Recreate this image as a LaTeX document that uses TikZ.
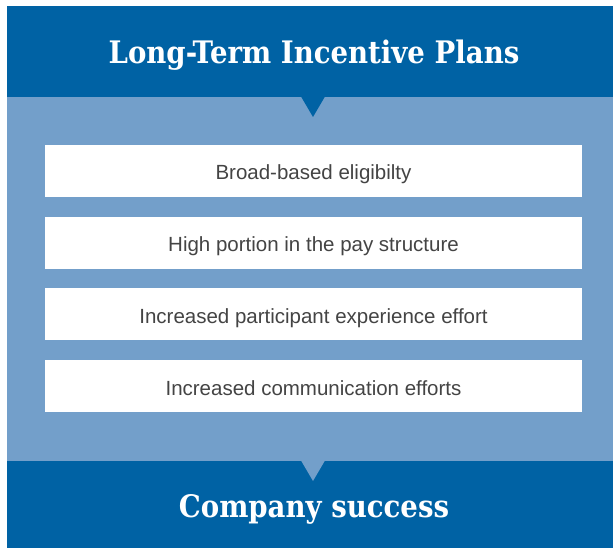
\documentclass[tikz,border=0pt]{standalone}
\usepackage{fontspec}
\setmainfont{Liberation Sans}
\newfontfamily\slabfont[FakeStretch=0.89]{DejaVu Serif}
\usepackage{xcolor}
\usepackage{tikz}
\usetikzlibrary{positioning}

\definecolor{ltipdark}{HTML}{0062A4}
\definecolor{ltiplight}{HTML}{739FCA}
\definecolor{ltiptext}{HTML}{444444}

\begin{document}
\begin{tikzpicture}[
    x=1pt, y=-1pt,
    node distance=19.3pt,
    band/.style={fill=ltipdark},
    headtext/.style={text=white, font=\slabfont\bfseries\fontsize{31}{36}\selectfont, inner sep=0pt, anchor=base},
    itembox/.style={rectangle, fill=white, minimum width=537pt, minimum height=52pt, inner sep=0pt, text height=20pt, text depth=2pt, align=center, text=ltiptext, font=\fontsize{20.5}{24}\selectfont}
]

% Canvas
\useasboundingbox[fill=white] (0,0) rectangle (613,548);

% Bands
\fill[ltiplight] (7,97) rectangle (613,461);
\fill[band] (7,6) rectangle (613,97);
\fill[band] (7,461) rectangle (613,548);

% Pointers
\fill[ltipdark] (301,96.5) -- (325,96.5) -- (313,117) -- cycle;
\fill[ltiplight] (301,460.5) -- (325,460.5) -- (313,481) -- cycle;

% Heading
\node[headtext] (plans) at (314,64) {Long-Term Incentive Plans};

% Items
\node[itembox] (elig) at (313.5,171) {Broad-based eligibilty};
\node[itembox, below=of elig] (portion) {High portion in the pay structure};
\node[itembox, below=of portion] (experience) {Increased participant experience effort};
\node[itembox, below=of experience] (comms) {Increased communication efforts};

% Result
\node[headtext] (success) at (314,517) {Company success};

\end{tikzpicture}
\end{document}
